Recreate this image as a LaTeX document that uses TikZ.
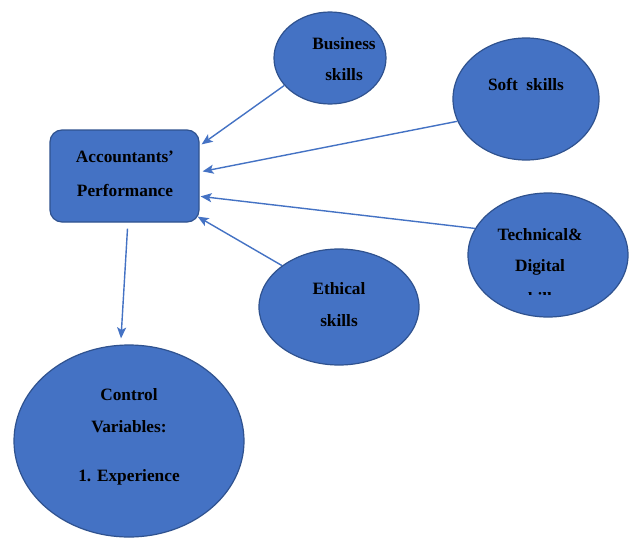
\documentclass[tikz,border=0pt]{standalone}
\usepackage{fontspec}
\setmainfont{Liberation Serif}
\usetikzlibrary{calc,arrows.meta,shapes.geometric}
\definecolor{fillblue}{HTML}{4472C4}
\definecolor{edgeblue}{HTML}{2F528F}
\definecolor{arrowblue}{HTML}{4472C4}
\tikzset{
  bubble/.style={ellipse, draw=edgeblue, line width=1.2pt, fill=fillblue, inner sep=0pt},
  accbox/.style={rectangle, rounded corners=12pt, draw=edgeblue, line width=1.2pt, fill=fillblue, inner sep=0pt},
  lbl/.style={font=\fontsize{17.3}{20}\selectfont\bfseries, text=black, inner sep=0pt, anchor=center},
  conn/.style={draw=arrowblue, line width=1.4pt, -{Stealth[length=11pt,width=9pt,inset=2.5pt]}},
}
\begin{document}
\begin{tikzpicture}[x=1pt,y=-1pt]
\useasboundingbox (0,0) rectangle (640,546);
\fill[white] (0,0) rectangle (640,546);
% shapes
\node[accbox, minimum width=149pt, minimum height=92pt] (acc) at (124.5,176) {};
\node[bubble, minimum width=112pt, minimum height=92pt] (bus) at (330,58) {};
\node[bubble, minimum width=146pt, minimum height=122pt] (soft) at (526,99) {};
\node[bubble, minimum width=160pt, minimum height=124pt] (tech) at (548,255) {};
\node[bubble, minimum width=160pt, minimum height=116pt] (eth) at (339,307) {};
\node[bubble, minimum width=230pt, minimum height=192pt] (ctrl) at (129,441) {};
% labels
\node[lbl] (t1) at (125,157) {Accountants’};
\node[lbl] (t2) at (125,190) {Performance};
\node[lbl] (t3) at (344,44) {Business};
\node[lbl] (t4) at (344,75) {skills};
\node[lbl] (t5) at (526,84) {Soft\ \ skills};
\node[lbl] (t6) at (540,235) {Technical\&};
\node[lbl] (t7) at (540,267) {Digital};
\begin{scope}
\clip (500,288) rectangle (580,294.5);
\node[lbl] (t8) at (540,299) {skills};
\end{scope}
\node[lbl] (t9) at (339,289) {Ethical};
\node[lbl] (t10) at (339,321) {skills};
\node[lbl] (t11) at (129,395) {Control};
\node[lbl] (t12) at (129,427) {Variables:};
\node[lbl] (t13) at (129,477) {1. Experience};
% connectors
\draw[conn] (bus.211) -- ($(acc.north east)+(2,15)$);
\draw[conn] (soft.198) -- ($(acc.north east)+(3,42)$);
\draw[conn] (tech.160) -- ($(acc.north east)+(1,67)$);
\draw[conn] (eth.144) -- ($(acc.south east)+(-2,-6)$);
\draw[conn] ($(acc.south)+(3,6)$) -- ($(ctrl.north)+(-8,-6)$);
\end{tikzpicture}
\end{document}
